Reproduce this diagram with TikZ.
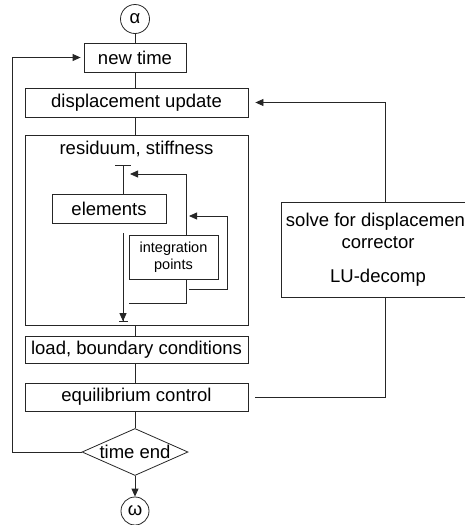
\documentclass[tikz,border=0pt]{standalone}
\usepackage{fontspec}
\setmainfont{Liberation Sans}
\usetikzlibrary{arrows.meta,shapes.geometric}

\begin{document}
\begin{tikzpicture}[x=1pt, y=-1pt, line width=0.8pt, draw=black!85,
    font=\fontsize{18.5}{22}\selectfont,
    box/.style={draw, rectangle, minimum height=29pt, inner sep=0pt},
    term/.style={draw, circle, minimum size=29pt, inner sep=0pt},
    tip/.style={-{Triangle[length=8pt,width=7pt]}}]
    	\clip (0,0) rectangle (465,525);

    	% main column
    	\node[term] (alpha) at (135,19) {α};
    	\node[box, minimum width=102pt] (newtime) at (135,57.5) {new time};
    	\node[box, minimum width=223pt] (dispupd) at (136.5,102.5) {displacement update};
    	\node[draw, minimum width=223pt, minimum height=190pt] (resid) at (136.5,230) {};
    	\node (residlbl) at (136.5,149) {residuum, stiffness};
    	\node[box, minimum width=223pt, minimum height=27pt] (load) at (136.5,350) {load, boundary conditions};
    	\node[box, minimum width=223pt, minimum height=28pt] (equil) at (136.5,397) {equilibrium control};
    	\node[draw, diamond, minimum width=106pt, minimum height=47pt, inner sep=0pt] (timeend) at (135,452) {\makebox[0pt]{time end}};
    	\node[term, minimum size=28pt] (omega) at (135,511) {ω};

    	% inside residuum
    	\node[box, minimum width=114pt] (elements) at (109,208.5) {elements};
    	\node[box, minimum width=89pt, minimum height=44pt, align=center,
    	      font=\fontsize{14.5}{17}\selectfont] (intpts) at (173.5,257) {integration\\points};

    	% solver on the right
    	\node[draw, minimum width=194pt, minimum height=95pt, align=center] (solve) at (378,249.5)
    	      {solve for displacement\\corrector\\[12pt]LU-decomp};
    	\coordinate (fb) at (385,0);

    	% spine
    	\draw (alpha) -- (newtime);
    	\draw (newtime.south) -- (newtime.south |- dispupd.north);
    	\draw (newtime.south |- dispupd.south) -- (newtime.south |- resid.north);
    	\draw (newtime.south |- resid.south) -- (newtime.south |- load.north);
    	\draw (newtime.south |- load.south) -- (newtime.south |- equil.north);
    	\draw (newtime.south |- equil.south) -- (timeend.north);
    	\draw [tip] (timeend.south) -- (omega.north);

    	% time loop back to new time
    	\coordinate (back) at (12,452);
    	\draw [tip, shorten >=3pt] (timeend.west) -- (back) |- (newtime.west);

    	% equilibrium to solve to displacement update
    	\draw [shorten <=7pt] (equil.east) -| (fb |- solve.south);
    	\draw [tip, shorten >=7pt] (fb |- solve.north) |- (dispupd.east);

    	% element loop
    	\coordinate (tbar) at (123,165);
    	\coordinate (tin) at (130,174);
    	\coordinate (outl) at (129,303);
    	\coordinate (xo) at (186,303);
    	\draw [-{Bar[width=16pt]}] (tbar |- elements.north) -- (tbar);
    	\draw (outl) -- (xo) -- (xo |- intpts.south);
    	\draw [tip] (xo |- intpts.north) |- (tin);

    	% integration point loop
    	\coordinate (inl) at (189,289);
    	\coordinate (inr) at (227,216);
    	\draw [tip] (inl) -| (inr) -- (inl |- inr);

    	% down to load
    	\coordinate (tdown) at (123,322);
    	\draw [-{Triangle[length=8pt,width=7pt] Bar[width=9pt]}] ([yshift=-10pt]tdown |- elements.south) -- (tdown);
\end{tikzpicture}
\end{document}
